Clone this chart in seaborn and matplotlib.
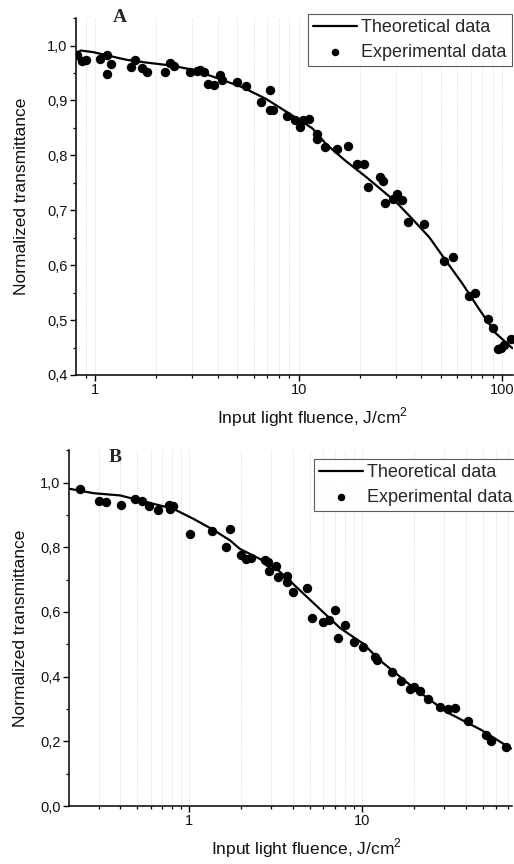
import numpy as np
import pandas as pd
import matplotlib
matplotlib.use("Agg")
import matplotlib.pyplot as plt
import matplotlib.ticker as mticker
import seaborn as sns

# ---- Panel A data ----
theo_a_x = [0.80, 0.85, 0.98, 1.18, 1.43, 1.79, 2.33, 3.03, 4.1, 5.3, 6.9, 9.0, 11.7, 13.6, 17, 21.4,
            25, 30.1, 36, 43.8, 52, 63.6, 77, 93, 112]
theo_a_y = [0.986, 0.991, 0.988, 0.981, 0.974, 0.969, 0.964, 0.956, 0.939, 0.924, 0.903, 0.876, 0.849,
            0.821, 0.79, 0.761, 0.74, 0.715, 0.685, 0.651, 0.612, 0.567, 0.52, 0.476, 0.449]
exp_a_x = [0.81, 0.86, 0.90, 1.05, 1.14, 1.14, 1.19, 1.50, 1.57, 1.69, 1.80, 2.20, 2.33, 2.45, 2.92,
           3.15, 3.27, 3.42, 3.59, 3.83, 4.10, 4.21, 5.0, 5.53, 6.5, 7.2, 7.2, 7.5, 8.8, 9.56, 10.1,
           10.5, 11.2, 12.3, 12.3, 13.4, 15.4, 17.5, 19.3, 20.9, 22.0, 25.2, 26.1, 26.7, 29.0, 30.5,
           32.2, 34.6, 41.5, 52, 57.1, 68.9, 73.8, 84.8, 89.7, 94.9, 98.6, 102, 110]
exp_a_y = [0.982, 0.972, 0.974, 0.976, 0.983, 0.948, 0.966, 0.961, 0.973, 0.960, 0.951, 0.951, 0.968,
           0.962, 0.951, 0.954, 0.955, 0.951, 0.930, 0.928, 0.946, 0.938, 0.934, 0.927, 0.898, 0.919,
           0.882, 0.882, 0.871, 0.865, 0.852, 0.865, 0.867, 0.839, 0.830, 0.815, 0.811, 0.818, 0.784,
           0.784, 0.742, 0.761, 0.753, 0.713, 0.721, 0.729, 0.719, 0.679, 0.675, 0.607, 0.615, 0.544,
           0.550, 0.502, 0.485, 0.447, 0.449, 0.455, 0.465]

# ---- Panel B data ----
theo_b_x = [0.202, 0.28, 0.40, 0.50, 0.68, 0.81, 1.06, 1.38, 1.73, 1.97, 2.57, 3.21, 4.0, 5.7, 7.5,
            10.2, 12.7, 19.7, 30.9, 49.3, 73]
theo_b_y = [0.981, 0.967, 0.960, 0.947, 0.929, 0.919, 0.888, 0.854, 0.821, 0.795, 0.764, 0.734, 0.687,
            0.610, 0.55, 0.502, 0.451, 0.368, 0.291, 0.235, 0.178]
exp_b_x = [0.234, 0.302, 0.330, 0.404, 0.488, 0.537, 0.587, 0.665, 0.77, 0.78, 0.81, 1.02, 1.36, 1.63,
           1.74, 2.0, 2.15, 2.28, 2.77, 2.87, 2.91, 3.21, 3.28, 3.67, 3.67, 4.01, 4.83, 5.16, 6.0, 6.5,
           7.0, 7.3, 8.0, 9.0, 10.2, 11.9, 12.3, 15.0, 16.9, 18.9, 20.2, 21.6, 24.2, 28.2, 31.5, 34.5,
           41.1, 52.1, 56.2, 68]
exp_b_y = [0.981, 0.942, 0.939, 0.932, 0.950, 0.942, 0.927, 0.916, 0.929, 0.917, 0.926, 0.842, 0.850,
           0.802, 0.855, 0.775, 0.765, 0.768, 0.759, 0.754, 0.726, 0.741, 0.708, 0.710, 0.692, 0.661,
           0.674, 0.581, 0.57, 0.575, 0.605, 0.52, 0.56, 0.507, 0.492, 0.461, 0.453, 0.413, 0.387,
           0.363, 0.368, 0.356, 0.332, 0.306, 0.299, 0.302, 0.262, 0.219, 0.202, 0.183]

xlabel = "Input light fluence, J/cm$^2$"
ylabel = "Normalized transmittance"

sns.set_style("white")
plt.rcParams['font.family'] = ['Liberation Sans', 'DejaVu Sans']
plt.rcParams['mathtext.fontset'] = 'custom'
plt.rcParams['mathtext.rm'] = 'Liberation Sans'

fig = plt.figure(figsize=(5.14, 8.64), dpi=100)
axA = fig.add_axes([0.148, 0.566, 0.850, 0.413])
axB = fig.add_axes([0.134, 0.067, 0.862, 0.412])


def style(ax, xlim, ylim, yticks, yminor, ylab_x, xlab_xy, letter, letter_xy, leg_anchor):
    ax.set_xscale("log")
    ax.set_xlim(*xlim)
    ax.set_ylim(*ylim)
    ax.set_yticks(yticks)
    ax.yaxis.set_minor_locator(mticker.MultipleLocator(yminor))
    ax.yaxis.set_major_formatter(mticker.FuncFormatter(lambda v, p: f"{v:.1f}".replace(".", ",")))
    ax.xaxis.set_major_locator(mticker.LogLocator(base=10))
    ax.xaxis.set_minor_locator(mticker.LogLocator(base=10, subs=np.arange(2, 10)))
    ax.xaxis.set_major_formatter(mticker.FuncFormatter(lambda v, p: f"{v:g}"))
    ax.xaxis.set_minor_formatter(mticker.NullFormatter())
    for s in ["top", "right"]:
        ax.spines[s].set_visible(False)
    for s in ["left", "bottom"]:
        ax.spines[s].set_color("black")
        ax.spines[s].set_linewidth(1.1)
    ax.tick_params(which="major", direction="out", length=4, width=1.0, color="black",
                   labelsize=10.5, labelcolor="#111111", left=True, bottom=True, pad=2)
    ax.tick_params(which="minor", direction="out", length=2.5, width=0.9, color="black",
                   left=True, bottom=True)
    ax.grid(which="both", axis="x", color="#d8d8d8", linestyle=(0, (1.5, 1.5)), linewidth=0.6)
    ax.grid(False, axis="y")
    ax.set_axisbelow(True)
    ax.set_xlabel(xlabel, fontsize=12.5, color="#111111")
    ax.set_ylabel(ylabel, fontsize=12.5, color="#111111")
    ax.yaxis.set_label_coords(ylab_x, 0.5)
    ax.xaxis.set_label_coords(*xlab_xy)
    ax.text(letter_xy[0], letter_xy[1], letter, transform=fig.transFigure,
            fontfamily="Liberation Serif", fontweight="bold", fontsize=14, ha="center", va="center")
    handles, labels = ax.get_legend_handles_labels()
    leg = ax.legend(handles, labels, loc="upper right", bbox_to_anchor=leg_anchor,
                    bbox_transform=fig.transFigure, frameon=True, fancybox=False,
                    fontsize=13, handlelength=2.4, handletextpad=0.25, borderpad=0.3,
                    labelspacing=0.4, borderaxespad=0, markerscale=0.8)
    leg.get_frame().set_edgecolor("#333333")
    leg.get_frame().set_linewidth(0.8)


for ax, tx, ty, ex, ey in [(axA, theo_a_x, theo_a_y, exp_a_x, exp_a_y),
                           (axB, theo_b_x, theo_b_y, exp_b_x, exp_b_y)]:
    dft = pd.DataFrame({"x": tx, "y": ty})
    dfe = pd.DataFrame({"x": ex, "y": ey})
    sns.lineplot(data=dft, x="x", y="y", ax=ax, color="black", linewidth=1.6,
                 label="Theoretical data", sort=False)
    sns.scatterplot(data=dfe, x="x", y="y", ax=ax, color="black", s=46, edgecolor="black",
                    linewidth=0, label="Experimental data", zorder=3)

style(axA, (0.805, 113), (0.4, 1.05), np.arange(0.4, 1.01, 0.1), 0.05, -0.108, (0.54, -0.085),
      "A", (120 / 514, 1 - 18 / 864), (512 / 514, 1 - 14 / 864))
style(axB, (0.202, 74), (0.0, 1.1), np.arange(0.0, 1.01, 0.2), 0.1, -0.093, (0.535, -0.085),
      "B", (115 / 514, 1 - 457 / 864), (518 / 514, 1 - 459 / 864))

fig.savefig("out.png", dpi=100)
